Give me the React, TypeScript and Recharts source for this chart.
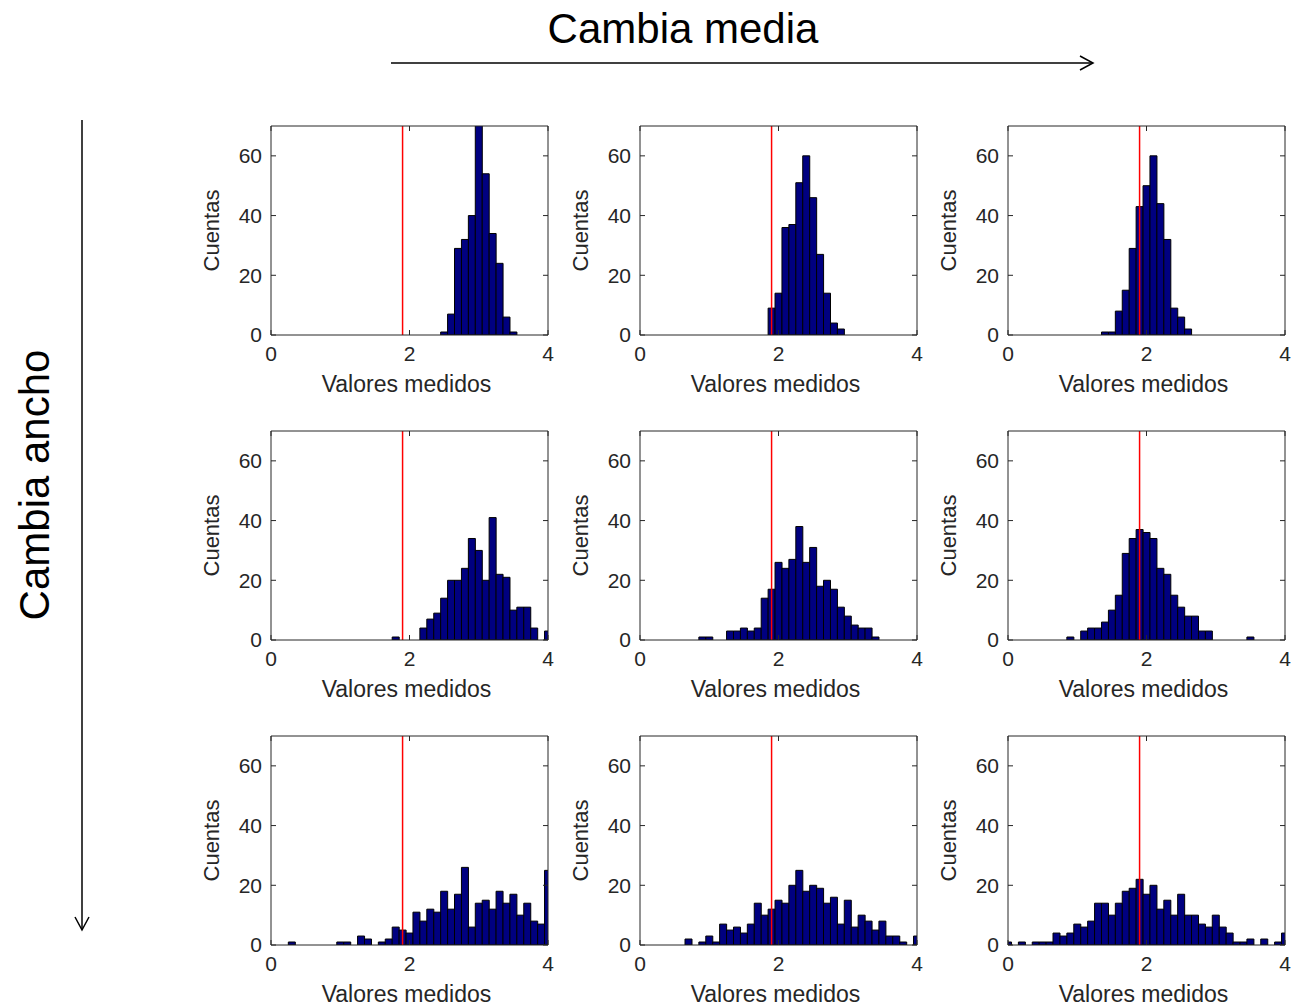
import React from 'react';
import { BarChart, Bar, XAxis, YAxis, ReferenceLine, Label } from 'recharts';

// bin centres of the histograms (hist(x, 0:0.1:4))
const bins = [
  0, 0.1, 0.2, 0.3, 0.4, 0.5, 0.6, 0.7, 0.8, 0.9,
  1, 1.1, 1.2, 1.3, 1.4, 1.5, 1.6, 1.7, 1.8, 1.9,
  2, 2.1, 2.2, 2.3, 2.4, 2.5, 2.6, 2.7, 2.8, 2.9,
  3, 3.1, 3.2, 3.3, 3.4, 3.5, 3.6, 3.7, 3.8, 3.9,
  4,
];
const xTicks = [0, 2, 4];
const yTicks = [0, 20, 40, 60];
const trueValue = 1.9;

// row 1 (narrow)
const countsA1 = [
  0, 0, 0, 0, 0, 0, 0, 0, 0, 0,
  0, 0, 0, 0, 0, 0, 0, 0, 0, 0,
  0, 0, 0, 0, 0, 1, 7, 29, 32, 40,
  72, 54, 34, 24, 6, 1, 0, 0, 0, 0,
  0,
];
const countsA2 = [
  0, 0, 0, 0, 0, 0, 0, 0, 0, 0,
  0, 0, 0, 0, 0, 0, 0, 0, 0, 9,
  14, 36, 37, 51, 60, 46, 27, 14, 4, 2,
  0, 0, 0, 0, 0, 0, 0, 0, 0, 0,
  0,
];
const countsA3 = [
  0, 0, 0, 0, 0, 0, 0, 0, 0, 0,
  0, 0, 0, 0, 1, 1, 8, 15, 29, 43,
  50, 60, 44, 32, 9, 6, 2, 0, 0, 0,
  0, 0, 0, 0, 0, 0, 0, 0, 0, 0,
  0,
];
// row 2 (medium)
const countsB1 = [
  0, 0, 0, 0, 0, 0, 0, 0, 0, 0,
  0, 0, 0, 0, 0, 0, 0, 0, 1, 0,
  0, 0, 4, 7, 9, 14, 20, 20, 24, 34,
  30, 20, 41, 22, 21, 10, 11, 11, 4, 0,
  3,
];
const countsB2 = [
  0, 0, 0, 0, 0, 0, 0, 0, 0, 1,
  1, 0, 0, 3, 3, 4, 3, 4, 14, 17,
  26, 24, 27, 38, 26, 31, 18, 20, 17, 11,
  8, 5, 4, 4, 1, 0, 0, 0, 0, 0,
  0,
];
const countsB3 = [
  0, 0, 0, 0, 0, 0, 0, 0, 0, 1,
  0, 3, 4, 4, 6, 10, 15, 29, 34, 37,
  36, 34, 24, 22, 15, 11, 8, 8, 3, 3,
  0, 0, 0, 0, 0, 1, 0, 0, 0, 0,
  0,
];
// row 3 (wide)
const countsC1 = [
  0, 0, 0, 1, 0, 0, 0, 0, 0, 0,
  1, 1, 0, 3, 2, 0, 1, 2, 6, 5,
  4, 11, 8, 12, 11, 18, 12, 17, 26, 6,
  14, 15, 12, 18, 14, 17, 10, 14, 8, 7,
  25,
];
const countsC2 = [
  0, 0, 0, 0, 0, 0, 0, 2, 0, 1,
  3, 1, 7, 5, 6, 4, 7, 14, 10, 12,
  15, 14, 20, 25, 18, 20, 19, 14, 16, 7,
  15, 6, 10, 8, 5, 8, 3, 3, 1, 0,
  3,
];
const countsC3 = [
  1, 0, 1, 0, 1, 1, 1, 4, 3, 4,
  7, 6, 8, 14, 14, 10, 14, 18, 19, 22,
  17, 20, 12, 15, 10, 17, 10, 10, 7, 6,
  10, 6, 4, 1, 1, 2, 0, 2, 0, 1,
  4,
];

const grid = [
  [countsA1, countsA2, countsA3],
  [countsB1, countsB2, countsB3],
  [countsC1, countsC2, countsC3],
];

const colLeft = [271, 640, 1008];
const rowTop = [126, 431, 736];

const font = '"Liberation Sans", Arial, Helvetica, sans-serif';
const ink = '#262626';

const tickStyle = { fill: ink, fontSize: 21, fontFamily: font };
const noTick = () => <g />;

const Panel = ({ counts, left, top }: { counts: number[]; left: number; top: number }) => {
  const data = bins.map((x, i) => ({ x, n: counts[i] }));
  return (
    <div style={{ position: 'absolute', left: left - 120, top: top - 10 }}>
      <BarChart
        width={407}
        height={317}
        data={data}
        margin={{ top: 9, right: 9, bottom: 0, left: 0 }}
        barCategoryGap={0}
        barGap={0}
      >
        <XAxis
          dataKey="x"
          type="number"
          domain={[0, 4]}
          ticks={xTicks}
          allowDataOverflow
          height={98}
          tickSize={-5}
          tickMargin={16}
          stroke={ink}
          tick={tickStyle}
        >
          <Label value="Valores medidos" position="center" dx={-3} fill={ink} fontSize={23} fontFamily={font} />
        </XAxis>
        <XAxis
          xAxisId="top"
          orientation="top"
          dataKey="x"
          type="number"
          domain={[0, 4]}
          ticks={xTicks}
          allowDataOverflow
          height={1}
          tickSize={-5}
          stroke={ink}
          tick={noTick}
        />
        <YAxis
          type="number"
          domain={[0, 70]}
          ticks={yTicks}
          allowDataOverflow
          width={120}
          tickSize={-5}
          tickMargin={14}
          stroke={ink}
          tick={tickStyle}
        >
          <Label value="Cuentas" angle={-90} position="center" fill={ink} fontSize={22} fontFamily={font} />
        </YAxis>
        <YAxis
          yAxisId="right"
          orientation="right"
          type="number"
          domain={[0, 70]}
          ticks={yTicks}
          allowDataOverflow
          width={1}
          tickSize={-5}
          stroke={ink}
          tick={noTick}
        />
        <Bar dataKey="n" fill="#000080" stroke="#000" strokeWidth={1} isAnimationActive={false} />
        <ReferenceLine x={trueValue} stroke="#ff0000" strokeWidth={1.5} />
      </BarChart>
    </div>
  );
};

export default function App() {
  return (
    <div
      style={{
        position: 'absolute',
        left: 0,
        top: 0,
        width: 1292,
        height: 1008,
        overflow: 'hidden',
        background: '#fff',
      }}
    >
      <svg width={1292} height={1008} style={{ position: 'absolute', left: 0, top: 0 }}>
        <text x={683} y={43} textAnchor="middle" fontSize={42} fontFamily={font} fill="#000">
          Cambia media
        </text>
        <line x1={391} y1={63} x2={1092} y2={63} stroke="#000" strokeWidth={1.5} />
        <polyline points="1080,56 1093,63 1080,70" fill="none" stroke="#000" strokeWidth={1.5} />
        <line x1={82} y1={120} x2={82} y2={929} stroke="#000" strokeWidth={1.5} />
        <polyline points="75,917 82,930 89,917" fill="none" stroke="#000" strokeWidth={1.5} />
        <text transform="translate(49,485) rotate(-90)" textAnchor="middle" fontSize={42} fontFamily={font} fill="#000">
          Cambia ancho
        </text>
      </svg>
      {grid.map((row, r) =>
        row.map((counts, c) => (
          <Panel key={`${r}-${c}`} counts={counts} left={colLeft[c]} top={rowTop[r]} />
        ))
      )}
    </div>
  );
}
